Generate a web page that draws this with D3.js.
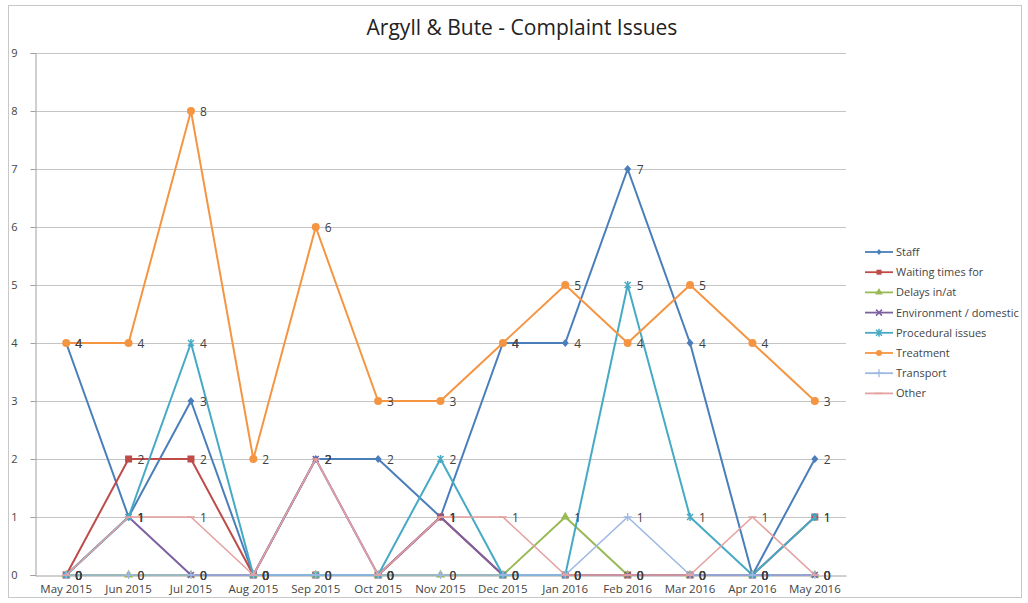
<!DOCTYPE html>
<html>
<head>
<meta charset="utf-8">
<script src="https://cdn.jsdelivr.net/npm/d3@7"></script>
<style>
  body { margin: 0; background: #fff; }
  svg { display: block; font-family: "Open Sans", Carlito, sans-serif; }
</style>
</head>
<body>
<svg id="chart" width="1028" height="603"></svg>
<script>
// chart data
var months = ["May 2015", "Jun 2015", "Jul 2015", "Aug 2015", "Sep 2015", "Oct 2015", "Nov 2015",
              "Dec 2015", "Jan 2016", "Feb 2016", "Mar 2016", "Apr 2016", "May 2016"];
var seriesNames = ["Staff", "Waiting times for", "Delays in/at", "Environment / domestic",
                   "Procedural issues", "Treatment", "Transport", "Other"];
var staff       = [4, 1, 3, 0, 2, 2, 1, 4, 4, 7, 4, 0, 2];
var waiting     = [0, 2, 2, 0, 0, 0, 1, 0, 0, 0, 0, 0, 1];
var delays      = [0, 0, 0, 0, 0, 0, 0, 0, 1, 0, 0, 0, 0];
var environment = [0, 1, 0, 0, 2, 0, 1, 0, 0, 0, 0, 0, 0];
var procedural  = [0, 1, 4, 0, 0, 0, 2, 0, 0, 5, 1, 0, 1];
var treatment   = [4, 4, 8, 2, 6, 3, 3, 4, 5, 4, 5, 4, 3];
var transport   = [0, 0, 0, 0, 0, 0, 0, 0, 0, 1, 0, 0, 0];
var other       = [0, 1, 1, 0, 2, 0, 1, 1, 0, 0, 0, 1, 0];
var yTicks = [0, 1, 2, 3, 4, 5, 6, 7, 8, 9];

function drawChart() {
  var values  = [staff, waiting, delays, environment, procedural, treatment, transport, other];
  var colors  = ["#4a7ebb", "#be4b48", "#98b954", "#7d60a0", "#46aac5", "#f59542", "#9db8e2", "#e5a0a0"];
  var markers = ["diamond", "square", "triangle", "cross", "star", "circle", "plus", "dash"];

  var series = seriesNames.map(function(n, i) {
    return { name: n, color: colors[i], marker: markers[i],
             points: values[i].map(function(v, j) { return { m: months[j], v: v }; }) };
  });

  var svg = d3.select("#chart");

  // outer frame
  svg.append("rect")
      .attr("x", 8.5).attr("y", 5.5)
      .attr("width", 1013).attr("height", 592)
      .attr("fill", "#fff").attr("stroke", "#c8c8c8");

  svg.append("text")
      .attr("x", 522).attr("y", 35)
      .attr("text-anchor", "middle")
      .attr("font-size", 21)
      .attr("fill", "#222")
      .text("Argyll & Bute - Complaint Issues");

  var pLeft = 35, pRight = 846, pTop = 53, pBottom = 575;

  var x = d3.scaleBand().domain(months).range([pLeft, pRight]);
  var y = d3.scaleLinear().domain([0, 9]).range([pBottom, pTop]);
  var cx = function(d) { return x(d.m) + x.bandwidth() / 2; };

  // gridlines
  svg.append("g").selectAll("line")
      .data(yTicks.slice(1))
    .enter().append("line")
      .attr("x1", pLeft).attr("x2", pRight)
      .attr("y1", function(d) { return y(d) + 0.5; })
      .attr("y2", function(d) { return y(d) + 0.5; })
      .attr("stroke", "#c4c4c4").attr("stroke-width", 1);

  var yAxis = svg.append("g")
      .attr("transform", "translate(" + (pLeft + 0.5) + ",0)")
      .call(d3.axisLeft(y).tickValues(yTicks).tickSize(5).tickPadding(13).tickFormat(d3.format("d")))
      .attr("font-family", null);
  yAxis.select(".domain").attr("stroke", "#a0a0a0");
  yAxis.selectAll(".tick line").attr("stroke", "#a0a0a0");
  yAxis.selectAll("text").attr("font-size", 11).attr("fill", "#444");

  var xAxis = svg.append("g")
      .attr("transform", "translate(0," + (pBottom + 0.5) + ")")
      .call(d3.axisBottom(x).tickSize(0).tickPadding(9))
      .attr("font-family", null);
  xAxis.select(".domain").attr("stroke", "#a0a0a0");
  xAxis.selectAll("text").attr("font-size", 11.5).attr("fill", "#444");

  var line = d3.line().x(cx).y(function(d) { return y(d.v); });

  var g = svg.selectAll(".series")
      .data(series)
    .enter().append("g")
      .attr("class", "series");

  g.append("path")
      .attr("d", function(d) { return line(d.points); })
      .attr("fill", "none")
      .attr("stroke", function(d) { return d.color; })
      .attr("stroke-width", function(d, i) { return i >= 6 ? 1.6 : 2; })
      .attr("stroke-linejoin", "round");

  function drawMarker(sel, type, color, s) {
    if (type === "diamond") {
      sel.append("path").attr("d", "M0," + (-s / 2 - 0.5) + "L" + (s / 2) + ",0L0," + (s / 2 + 0.5) + "L" + (-s / 2) + ",0Z").attr("fill", color);
    } else if (type === "square") {
      sel.append("rect").attr("x", -s / 2).attr("y", -s / 2).attr("width", s).attr("height", s).attr("fill", color);
    } else if (type === "triangle") {
      sel.append("path").attr("d", d3.symbol(d3.symbolTriangle, s * 5)()).attr("fill", color);
    } else if (type === "circle") {
      sel.append("circle").attr("r", s / 2 + 0.5).attr("fill", color);
    } else if (type === "cross") {
      sel.append("path").attr("d", "M-3,-3L3,3M-3,3L3,-3").attr("stroke", color).attr("stroke-width", 1.5);
    } else if (type === "star") {
      sel.append("path").attr("d", "M-3,-3L3,3M-3,3L3,-3M0,-4L0,4").attr("stroke", color).attr("stroke-width", 1.5);
    } else if (type === "plus") {
      sel.append("path").attr("d", "M-4,0L4,0M0,-4L0,4").attr("stroke", color).attr("stroke-width", 1.3);
    } else {
      sel.append("path").attr("d", "M-4,0L4,0").attr("stroke", color).attr("stroke-width", 1.5);
    }
  }

  g.each(function(s) {
    var pts = d3.select(this).selectAll(".pt")
        .data(s.points)
      .enter().append("g")
        .attr("class", "pt")
        .attr("transform", function(d) { return "translate(" + cx(d) + "," + y(d.v) + ")"; });
    drawMarker(pts, s.marker, s.color, 7);
  });

  // data labels, drawn after all lines like Excel
  svg.append("g").selectAll("g")
      .data(series)
    .enter().append("g")
    .selectAll("text")
      .data(function(d) { return d.points; })
    .enter().append("text")
      .attr("x", function(d) { return cx(d) + 9; })
      .attr("y", function(d) { return y(d.v) + 4.5; })
      .attr("font-size", 12)
      .attr("fill", "#404040")
      .text(function(d) { return d.v; });

  // legend
  var legend = svg.append("g").selectAll("g")
      .data(series)
    .enter().append("g")
      .attr("transform", function(d, i) { return "translate(865," + (252 + i * 20.2) + ")"; });

  legend.append("line")
      .attr("x1", 0).attr("x2", 28)
      .attr("stroke", function(d) { return d.color; })
      .attr("stroke-width", 1.8);

  legend.each(function(s) {
    var m = d3.select(this).append("g").attr("transform", "translate(14,0)");
    drawMarker(m, s.marker, s.color, 5);
  });

  legend.append("text")
      .attr("x", 31).attr("y", 4)
      .attr("font-size", 11)
      .attr("fill", "#444")
      .text(function(d) { return d.name; });
}

drawChart();
</script>
</body>
</html>
